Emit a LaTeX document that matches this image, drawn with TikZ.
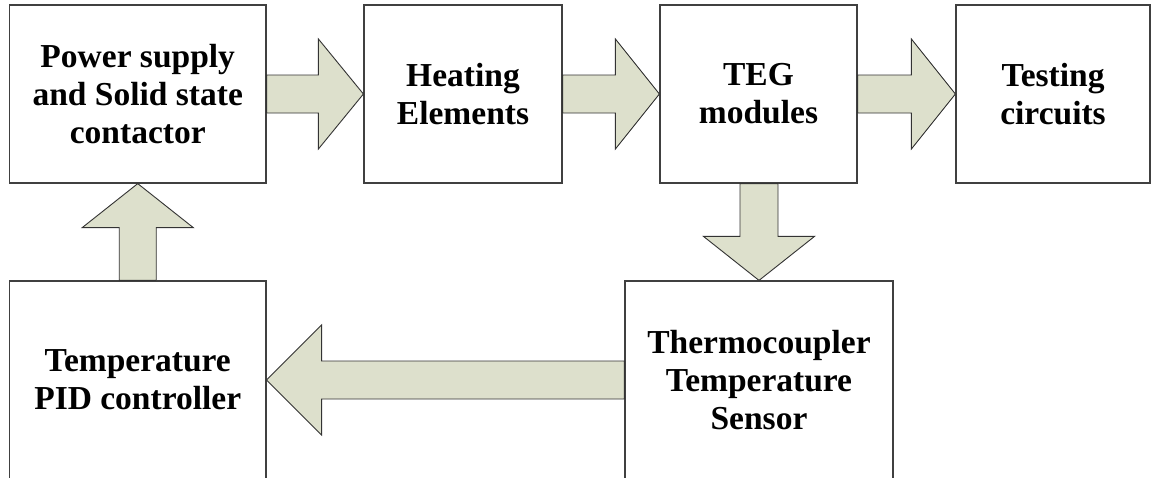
\documentclass[tikz,border=0pt]{standalone}
\usepackage{fontspec}
\setmainfont{Liberation Serif}
\usetikzlibrary{calc}
\definecolor{arrfill}{RGB}{221,224,204}
\definecolor{boxline}{RGB}{64,64,64}
\newcommand\blockarr[5]{%
  \coordinate (hb) at ($(#2)!#5!(#1)$);
  \filldraw[arr] ($(#1)!#3!90:(#2)$) -- ($(hb)!#3!90:(#2)$) -- ($(hb)!#4!90:(#2)$) -- (#2)
    -- ($(hb)!#4!-90:(#2)$) -- ($(hb)!#3!-90:(#2)$) -- ($(#1)!#3!-90:(#2)$) -- cycle;}
\begin{document}
\begin{tikzpicture}[x=1pt,y=1pt,
  blk/.style={draw=boxline, line width=1.2pt, fill=white, align=center,
    font=\fontsize{33.5}{38}\selectfont\bfseries, inner sep=0pt},
  arr/.style={fill=arrfill, draw=black!80, line width=0.9pt, line join=miter}]
\clip (0,0) rectangle (1151,-477);
\fill[white] (0,0) rectangle (1151,-477);
\node[blk, minimum width=256.5pt, minimum height=178pt] (ps) at (137.75,-94) {Power supply\\and Solid state\\contactor};
\node[blk, minimum width=198pt, minimum height=178pt] (he) at (463,-94) {Heating\\Elements};
\node[blk, minimum width=197pt, minimum height=178pt] (teg) at (758.5,-94) {TEG\\modules};
\node[blk, minimum width=194pt, minimum height=178pt] (tc) at (1053,-94) {Testing\\circuits};
\node[blk, minimum width=256.5pt, minimum height=198pt] (pid) at (137.75,-380) {Temperature\\PID controller};
\node[blk, minimum width=268pt, minimum height=198pt] (sen) at (759,-380) {Thermocoupler\\Temperature\\Sensor};
\blockarr{ps.east}{he.west}{19pt}{55pt}{45pt}
\blockarr{he.east}{teg.west}{19pt}{55pt}{44pt}
\blockarr{teg.east}{tc.west}{19pt}{55pt}{44pt}
\coordinate (dstart) at (teg.south -| sen.north);
\blockarr{dstart}{sen.north}{19pt}{55.5pt}{44pt}
\blockarr{sen.west}{pid.east}{19pt}{55pt}{55pt}
\blockarr{pid.north}{ps.south}{18.5pt}{55.5pt}{44pt}
\end{tikzpicture}
\end{document}
